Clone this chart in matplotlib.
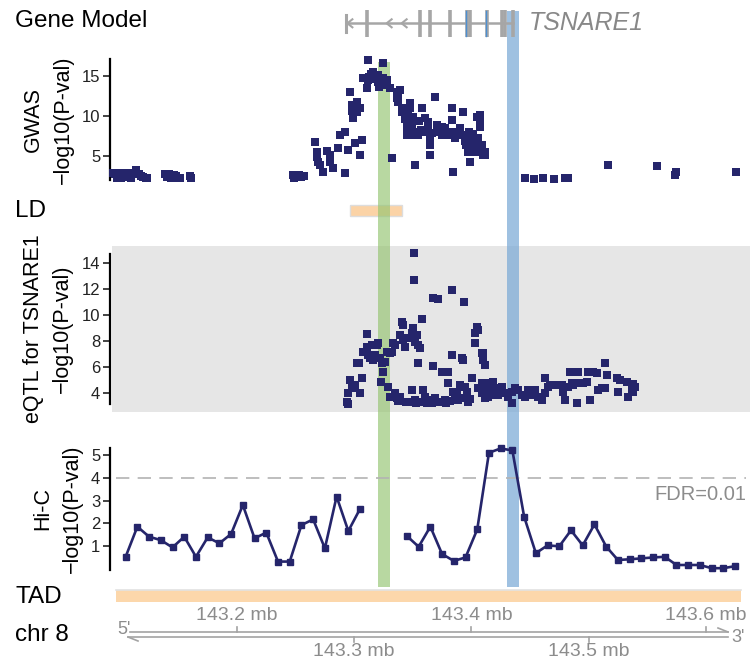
import matplotlib.pyplot as plt
from matplotlib.patches import Rectangle
import numpy as np

plt.rcParams['font.family'] = ['Liberation Sans', 'DejaVu Sans']

# ---- data (positions in mb on chr 8) ----
gwas_pos = [
    143.0945, 143.096, 143.098, 143.100, 143.101, 143.103, 143.105, 143.106, 143.108,
    143.110, 143.112, 143.114, 143.116, 143.118, 143.120, 143.122, 143.123,
    143.139, 143.140, 143.142, 143.144, 143.146, 143.148, 143.150, 143.151, 143.160, 143.1605,
    143.2478, 143.249, 143.251, 143.253, 143.255, 143.257,
    143.2666, 143.2683, 143.2683, 143.2690, 143.2708, 143.2734, 143.2768, 143.2794, 143.2794,
    143.2819, 143.2862, 143.2879, 143.2922, 143.2922, 143.2947, 143.3007, 143.3049, 143.3067,
    143.2964, 143.2981, 143.2981, 143.2990, 143.3024, 143.3024, 143.3049, 143.3109, 143.3075,
    143.3118, 143.3118, 143.3130, 143.3160, 143.3178, 143.3203, 143.3203, 143.3210, 143.3246,
    143.3246, 143.3280, 143.3280, 143.3305, 143.3323, 143.3365, 143.3365, 143.3370, 143.3140,
    143.3190, 143.3225, 143.3260, 143.3150,
    143.3391, 143.3374, 143.3408, 143.3476, 143.3480, 143.3459, 143.3502, 143.3451, 143.3451,
    143.3451, 143.3493, 143.3493, 143.3493, 143.3519, 143.3544, 143.3578, 143.3604, 143.3630,
    143.3630, 143.3647, 143.3647, 143.3647, 143.3519, 143.3689, 143.3706, 143.3706, 143.3749,
    143.3749, 143.3775, 143.3800, 143.3834, 143.3834, 143.3843, 143.3860, 143.3860, 143.3903,
    143.3903, 143.3928, 143.3945, 143.3945, 143.3950, 143.3971, 143.3988, 143.4014, 143.4014,
    143.4020, 143.4048, 143.4073, 143.4073, 143.4073, 143.4056, 143.4056, 143.4060, 143.4090,
    143.4090, 143.4095, 143.4116, 143.4116,
    143.3570, 143.3610, 143.3660, 143.3720, 143.3790, 143.3880, 143.3980, 143.4010, 143.3550,
    143.3410, 143.3430,
    143.4457, 143.4534, 143.4611, 143.4705, 143.4799, 143.4824, 143.5166, 143.5584, 143.5746,
    143.5738, 143.6258,
]
gwas_val = [
    2.85, 2.7, 2.3, 2.9, 2.2, 2.8, 2.4, 2.9, 2.6,
    2.2, 2.9, 3.2, 2.7, 2.5, 2.4, 2.2, 2.3,
    2.8, 2.4, 2.7, 2.3, 2.6, 2.5, 2.2, 2.3, 2.5, 2.2,
    2.6, 2.3, 2.5, 2.6, 2.4, 2.5,
    6.75, 5.5, 4.9, 4.3, 3.9, 3.0, 5.6, 5.1, 4.3,
    3.5, 6.0, 7.6, 8.0, 2.9, 5.75, 6.6, 5.1, 7.0,
    13.0, 11.4, 10.6, 9.75, 11.75, 10.5, 11.0, 13.5, 14.75,
    17.0, 14.5, 14.9, 15.5, 14.9, 15.1, 14.2, 13.6, 16.6,
    14.75, 14.5, 13.9, 13.5, 4.75, 13.0, 12.2, 11.75, 15.3,
    15.0, 14.6, 14.3, 14.6,
    13.25, 12.25, 11.0, 11.6, 11.0, 10.1, 9.9, 8.9, 8.2,
    7.6, 9.1, 8.4, 7.6, 8.0, 7.6, 11.0, 9.75, 9.25,
    8.5, 7.25, 6.4, 5.1, 3.9, 12.4, 8.9, 8.0, 8.6,
    7.6, 8.5, 7.6, 11.0, 9.5, 3.0, 8.0, 7.25, 8.5,
    7.6, 10.5, 7.6, 6.9, 6.4, 5.5, 4.25, 6.75, 6.0,
    5.5, 9.9, 10.1, 9.5, 8.6, 7.25, 6.4, 5.5, 6.4,
    5.8, 5.1, 5.5, 5.1,
    8.3, 8.0, 7.9, 8.2, 8.0, 7.9, 8.0, 7.8, 9.4,
    10.5, 9.6,
    2.25, 2.1, 2.25, 2.1, 2.25, 2.2, 3.9, 3.75, 3.0,
    2.6, 3.0,
]

eqtl_pos = [
    143.2936, 143.2944, 143.2950, 143.2964, 143.2978, 143.3007, 143.3021, 143.3041, 143.3049,
    143.3064, 143.3078, 143.3106, 143.3106, 143.3120, 143.3135, 143.3149, 143.3163, 143.3177,
    143.3192, 143.3206, 143.3220, 143.3234, 143.3248, 143.3229, 143.3263, 143.3277, 143.3305,
    143.3319, 143.3291, 143.3305, 143.3334, 143.3348, 143.3362, 143.3390, 143.3348, 143.3405,
    143.3419, 143.3390, 143.3419, 143.3447, 143.3433, 143.3476, 143.3490, 143.3504, 143.3519,
    143.3533, 143.3547, 143.3561, 143.3547, 143.3513, 143.3513, 143.3490, 143.3519, 143.3575,
    143.3590, 143.3604, 143.3618, 143.3646, 143.3669, 143.3675, 143.3718, 143.3689, 143.3718,
    143.3746, 143.3760, 143.3775, 143.3803, 143.3803, 143.3831, 143.3837, 143.3846, 143.3860,
    143.3874, 143.3903, 143.3917, 143.3931, 143.3937, 143.3945, 143.3959, 143.3974, 143.4008,
    143.4031, 143.4045, 143.4059, 143.4031, 143.4087, 143.4102, 143.4116, 143.4059, 143.4087,
    143.4116, 143.4144, 143.4173, 143.4187,
    143.3376, 143.3440, 143.3475, 143.3530, 143.3570, 143.3620, 143.3660, 143.3700, 143.3730,
    143.3780, 143.3820, 143.3890, 143.3920, 143.3990,
    143.4101, 143.4087, 143.4116, 143.4144, 143.4187, 143.4173, 143.4201, 143.4229, 143.4258,
    143.4286, 143.4315, 143.4343, 143.4343, 143.4372, 143.4400, 143.4429, 143.4457, 143.4485,
    143.4514, 143.4542, 143.4571, 143.4599, 143.4628, 143.4628, 143.4656, 143.4670, 143.4740,
    143.4770, 143.4784, 143.4798, 143.4827, 143.4855, 143.4869, 143.4841, 143.4912, 143.4898,
    143.4912, 143.4955, 143.4983, 143.5012, 143.4997, 143.5040, 143.5068, 143.5083, 143.5111,
    143.5140, 143.5154, 143.5140, 143.5240, 143.5254, 143.5268, 143.5325, 143.5339, 143.5367,
    143.5367, 143.5382, 143.5395, 143.5375,
]
eqtl_val = [
    3.31, 3.15, 3.95, 4.98, 4.34, 4.59, 6.26, 6.26, 3.95,
    5.11, 7.15, 8.52, 7.54, 6.9, 6.65, 7.67, 6.52, 6.9,
    7.67, 7.8, 6.65, 6.26, 5.62, 4.85, 6.39, 7.15, 7.03,
    7.15, 4.46, 3.69, 7.8, 3.95, 3.57, 3.69, 7.67, 9.46,
    9.21, 8.44, 8.05, 8.18, 7.54, 8.18, 8.57, 8.95, 7.92,
    8.44, 7.67, 7.42, 6.26, 12.67, 14.72, 4.21, 3.44, 9.67,
    4.21, 3.69, 3.18, 3.44, 6.05, 11.31, 11.2, 3.57, 3.31,
    5.62, 3.31, 3.44, 5.62, 4.72, 6.9, 11.9, 4.08, 3.57,
    3.95, 4.59, 6.65, 6.52, 10.95, 4.46, 4.08, 3.31, 5.11,
    7.8, 9.08, 8.82, 8.57, 7.03, 6.52, 6.13, 4.34, 3.95,
    3.57, 4.72, 4.34, 3.82,
    3.4, 3.25, 3.3, 3.2, 3.25, 3.3, 3.2, 3.25, 3.3,
    3.2, 3.35, 3.45, 3.6, 3.5,
    7.03, 4.72, 4.21, 3.69, 4.85, 4.08, 4.34, 3.82, 4.46,
    3.95, 3.69, 4.08, 3.18, 4.34, 4.21, 3.82, 3.69, 4.21,
    3.82, 4.21, 3.69, 3.44, 5.11, 3.95, 4.46, 4.59, 4.59,
    4.59, 4.08, 3.44, 4.46, 4.72, 4.59, 5.62, 5.62, 3.18,
    4.72, 4.72, 4.85, 3.44, 5.62, 5.62, 5.49, 4.21, 4.34,
    6.26, 5.36, 4.34, 5.11, 4.08, 4.98, 4.85, 3.69, 4.59,
    4.21, 4.08, 4.46, 4.7,
]

hic_pos = [
    143.105, 143.115, 143.125, 143.135, 143.145, 143.155, 143.165, 143.175, 143.185, 143.195,
    143.205, 143.215, 143.225, 143.235, 143.245, 143.255, 143.265, 143.275, 143.285, 143.295,
    143.305, 143.315, 143.325, 143.335, 143.345, 143.355, 143.365, 143.375, 143.385, 143.395,
    143.405, 143.415, 143.425, 143.435, 143.445, 143.455, 143.465, 143.475, 143.485, 143.495,
    143.505, 143.515, 143.525, 143.535, 143.545, 143.555, 143.565, 143.575, 143.585, 143.595,
    143.605, 143.615, 143.625,
]
hic_val = [
    0.54, 1.86, 1.42, 1.27, 0.95, 1.42, 0.54, 1.39, 1.13, 1.54,
    2.81, 1.35, 1.60, 0.33, 0.33, 1.93, 2.18, 0.91, 3.18, 1.67,
    2.64, np.nan, np.nan, np.nan, 1.45, 0.98, 1.86, 0.66, 0.36, 0.51,
    1.74, 5.10, 5.29, 5.20, 2.30, 0.70, 1.04, 1.00, 1.70, 1.04,
    1.96, 0.99, 0.40, 0.43, 0.47, 0.51, 0.54, 0.18, 0.18, 0.18,
    0.04, 0.04, 0.13,
]
hic_threshold = 4

gene_name = 'TSNARE1'
gene_start, gene_end = 143.2930, 143.4358
exons = [143.3107, 143.3561, 143.3647, 143.3817, 143.3960, 143.3988,
         143.4131, 143.4259, 143.4287, 143.4358]
exon_utr_marks = [143.3951, 143.4125]
intron_arrows = [143.2942, 143.3277, 143.3405]

ld_start, ld_end = 143.2964, 143.3408
tad_start, tad_end = 143.0970, 143.6300
green_snp = 143.3255
blue_snp = 143.4357

chr_ticks_top = [143.2, 143.4, 143.6]
chr_ticks_bottom = [143.3, 143.5]

# ---- layout helpers (figure pixels -> mb / fig fraction) ----
W, H = 756, 663
MB_LEFT = 142.9978
MB_PER_PX = 1 / 1172.0


def mb_at(px):
    return MB_LEFT + px * MB_PER_PX


def fy(px):
    return 1 - px / H


NAVY = '#25256b'
GREY = '#a6a6a6'
GREY_TXT = '#8c8c8c'

fig = plt.figure(figsize=(W / 100, H / 100), dpi=100)

# background track axes (whole figure)
bg = fig.add_axes([0, 0, 1, 1])
bg.set_xlim(mb_at(0), mb_at(W))
bg.set_ylim(0, 1)
bg.axis('off')

# grey panel behind the eQTL track
bg.add_patch(Rectangle((mb_at(112), fy(411.7)), mb_at(750) - mb_at(112),
                       fy(246) - fy(411.7), fc='#e6e6e6', ec='none', zorder=0))

# LD block and TAD
bg.add_patch(Rectangle((ld_start, fy(216.5)), ld_end - ld_start, fy(205) - fy(216.5),
                       fc='#fbd3a6', ec='#dddddd', lw=1, zorder=1))
bg.add_patch(Rectangle((tad_start, fy(602)), tad_end - tad_start, fy(590) - fy(602),
                       fc='#fcd7ab', ec='none', zorder=1))
bg.plot([tad_start, tad_end], [fy(590), fy(590)], color='#e2e2e2', lw=1.2, zorder=1)

# highlighted variants
band_w = 0.0098
bg.add_patch(Rectangle((green_snp - band_w / 2, fy(587)), band_w, fy(62) - fy(587),
                       fc='#93c46f', alpha=0.65, ec='none', zorder=2))
bg.add_patch(Rectangle((blue_snp - band_w / 2, fy(587)), band_w, fy(11) - fy(587),
                       fc='#7aaad6', alpha=0.72, ec='none', zorder=2))

# gene model
gy = fy(23.3)
bg.plot([gene_start, gene_end], [gy, gy], color=GREY, lw=1.8, zorder=3)
bg.plot([gene_start, gene_start], [fy(15), fy(32)], color=GREY, lw=2.2, zorder=3)
for e in exons:
    bg.plot([e, e], [fy(10), fy(37)], color=GREY, lw=2.6, solid_capstyle='butt', zorder=3)
for e in exon_utr_marks:
    bg.plot([e, e], [fy(11), fy(36)], color='#4d8fd1', lw=1.0, zorder=4)
dx = 5 * MB_PER_PX
dy = 4 / H
for a in intron_arrows:
    bg.plot([a + dx, a, a + dx], [gy + dy, gy, gy - dy], color=GREY, lw=1.5, zorder=3)
bg.text(mb_at(529), gy, gene_name, fontsize=18, style='italic', color='#888888',
        ha='left', va='center')

# left track labels
for txt, ypx in [('Gene Model', 21), ('LD', 211), ('TAD', 597), ('chr 8', 635)]:
    fig.text(15 / W, fy(ypx), txt, fontsize=17.5, ha='left', va='center')

# chromosome coordinate axis
ctop, cbot = fy(632), fy(637)
chr_col = '#a3a3a3'
bg.plot([mb_at(130), mb_at(728)], [ctop, ctop], color=chr_col, lw=1.2)
bg.plot([mb_at(728), mb_at(718)], [ctop, fy(628)], color=chr_col, lw=1.2)
bg.plot([mb_at(128), mb_at(728)], [cbot, cbot], color=chr_col, lw=1.2)
bg.plot([mb_at(128), mb_at(138)], [cbot, fy(641)], color=chr_col, lw=1.2)
for t in chr_ticks_top:
    bg.plot([t, t], [ctop, fy(627)], color=chr_col, lw=1.2)
    bg.text(t, fy(615), f'{t:.1f} mb', fontsize=14, color=GREY_TXT, ha='center', va='center')
for t in chr_ticks_bottom:
    bg.plot([t, t], [cbot, fy(642)], color=chr_col, lw=1.2)
    bg.text(t, fy(652), f'{t:.1f} mb', fontsize=14, color=GREY_TXT, ha='center', va='center')
bg.text(mb_at(117), fy(630), "5'", fontsize=13, color=GREY_TXT, ha='left', va='center')
bg.text(mb_at(731), fy(637), "3'", fontsize=13, color=GREY_TXT, ha='left', va='center')


def panel(top, bottom, ylim, spine, ticks, label):
    ax = fig.add_axes([110 / W, fy(bottom), 640 / W, (bottom - top) / H])
    ax.set_xlim(mb_at(110), mb_at(750))
    ax.set_ylim(*ylim)
    ax.patch.set_alpha(0)
    for s in ['top', 'right', 'bottom']:
        ax.spines[s].set_visible(False)
    ax.spines['left'].set_linewidth(1.6)
    ax.spines['left'].set_bounds(*spine)
    ax.set_xticks([])
    ax.set_yticks(ticks)
    ax.tick_params(axis='y', length=5, width=1.2, labelsize=12, pad=2, colors='#222222')
    ax.set_ylabel(label, fontsize=15.5, linespacing=1.55, labelpad=6)
    return ax


ax1 = panel(58, 182, (1.75, 17.25), (2.0, 17.1), [5, 10, 15], 'GWAS\n\u2212log10(P-val)')
ax1.scatter(gwas_pos, gwas_val, marker='s', s=27, color=NAVY, lw=0, clip_on=False, zorder=5)

ax2 = panel(246, 411.7, (2.54, 15.28), (3.13, 14.67), [4, 6, 8, 10, 12, 14],
            'eQTL for TSNARE1\n\u2212log10(P-val)')
ax2.scatter(eqtl_pos, eqtl_val, marker='s', s=27, color=NAVY, lw=0, clip_on=False, zorder=5)

ax3 = panel(445, 572, (-0.127, 5.44), (-0.05, 5.3), [1, 2, 3, 4, 5],
            'Hi-C\n\u2212log10(P-val)')
ax3.axhline(hic_threshold, xmin=6 / 640, xmax=636 / 640, color='#b3b3b3', lw=1.2,
            dashes=(8, 5), zorder=1)
ax3.plot(hic_pos, hic_val, color=NAVY, lw=1.9, marker='s', ms=5, zorder=5, clip_on=False)
ax3.text(mb_at(746), 3.25, 'FDR=0.01', fontsize=14.5, color=GREY_TXT, ha='right', va='center')

fig.savefig('out.png', dpi=100)
